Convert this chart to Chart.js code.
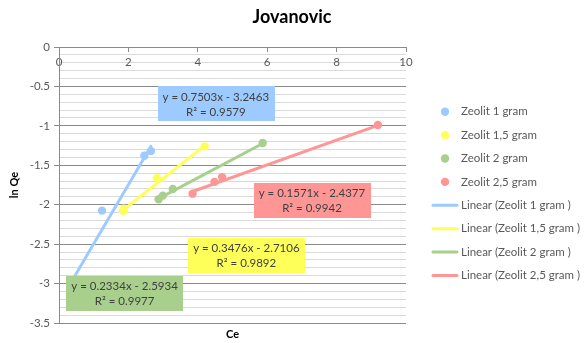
<!DOCTYPE html>
<html>
<head>
<meta charset="utf-8">
<script src="https://cdn.jsdelivr.net/npm/chart.js@4/dist/chart.umd.min.js"></script>
<style>
  html, body { margin: 0; padding: 0; background: #ffffff; }
  #wrap { width: 584px; height: 343px; position: relative; }
</style>
</head>
<body>
<div id="wrap"><canvas id="chart" width="584" height="343"></canvas></div>
<script>
// Jovanovic isotherm: ln Qe against Ce for four zeolite doses
const seriesNames = ['Zeolit 1 gram', 'Zeolit 1,5 gram', 'Zeolit 2 gram', 'Zeolit 2,5 gram'];

const ceZeolit1 = [0.35, 1.24, 2.46, 2.65];
const lnQeZeolit1 = [-3.02, -2.075, -1.38, -1.32];

const ceZeolit15 = [1.85, 1.87, 2.82, 4.2];
const lnQeZeolit15 = [-2.08, -2.05, -1.66, -1.26];

const ceZeolit2 = [2.87, 2.99, 3.28, 5.87];
const lnQeZeolit2 = [-1.93, -1.885, -1.80, -1.217];

const ceZeolit25 = [3.85, 4.48, 4.70, 9.19];
const lnQeZeolit25 = [-1.86, -1.71, -1.65, -0.99];

// Linear trendline coefficients and fit quality
const slopes = [0.7503, 0.3476, 0.2334, 0.1571];
const intercepts = [-3.2463, -2.7106, -2.5934, -2.4377];
const rSquared = [0.9579, 0.9892, 0.9977, 0.9942];

// Axis ticks
const xTicks = [0, 2, 4, 6, 8, 10];
const yMajorTicks = [0, -0.5, -1, -1.5, -2, -2.5, -3, -3.5];

const colors = ['#9DCBFF', '#FFFF59', '#A8D08C', '#FF9696'];
// Where each equation box sits, in axis units
const boxAnchors = [
  { x: 4.52, y: -0.722 },
  { x: 5.40, y: -2.647 },
  { x: 1.89, y: -3.127 },
  { x: 7.29, y: -1.949 }
];

const ceAll = [ceZeolit1, ceZeolit15, ceZeolit2, ceZeolit25];
const lnQeAll = [lnQeZeolit1, lnQeZeolit15, lnQeZeolit2, lnQeZeolit25];

const FONT = 'Lato, "Open Sans", "DejaVu Sans", sans-serif';
const GRID_MAJOR = '#8A8A8A';
const GRID_MINOR = '#DADADA';

function isMajor(v) {
  return yMajorTicks.some(t => Math.abs(t - v) < 1e-6);
}

const pointSets = seriesNames.map((name, i) => ({
  type: 'scatter',
  label: name,
  data: ceAll[i].map((x, k) => ({ x: x, y: lnQeAll[i][k] })),
  backgroundColor: colors[i],
  borderWidth: 0,
  pointRadius: 4.2,
  pointHoverRadius: 4.2,
  showLine: false
}));

const trendSets = seriesNames.map((name, i) => {
  const xmin = Math.min(...ceAll[i]);
  const xmax = Math.max(...ceAll[i]);
  return {
    type: 'line',
    label: 'Linear (' + name + ' )',
    data: [xmin, xmax].map(x => ({ x: x, y: slopes[i] * x + intercepts[i] })),
    borderColor: colors[i],
    backgroundColor: colors[i],
    borderWidth: 3,
    borderCapStyle: 'round',
    pointRadius: 0,
    fill: false,
    tension: 0
  };
});

function fmtCoef(v) { return Math.abs(v).toFixed(4); }

const overlayPlugin = {
  id: 'overlay',
  afterDatasetsDraw(chart) {
    const ctx = chart.ctx;
    const xs = chart.scales.x, ys = chart.scales.y;
    ctx.save();
    ctx.font = '11.5px ' + FONT;
    ctx.textAlign = 'center';
    ctx.textBaseline = 'middle';
    slopes.forEach((m, i) => {
      const line1 = 'y = ' + m.toFixed(4) + 'x ' + (intercepts[i] < 0 ? '-' : '+') + ' ' + fmtCoef(intercepts[i]);
      const line2 = 'R\u00B2 = ' + rSquared[i].toFixed(4);
      const cx = xs.getPixelForValue(boxAnchors[i].x);
      const cy = ys.getPixelForValue(boxAnchors[i].y);
      const w = Math.max(ctx.measureText(line1).width, ctx.measureText(line2).width) + 10;
      const h = 35;
      ctx.fillStyle = colors[i];
      ctx.fillRect(Math.round(cx - w / 2), Math.round(cy - h / 2), Math.round(w), h);
      ctx.fillStyle = '#404040';
      ctx.fillText(line1, cx, cy - 7);
      ctx.fillText(line2, cx, cy + 8);
    });
    ctx.restore();
  },
  afterDraw(chart) {
    const ctx = chart.ctx;
    const area = chart.chartArea;
    ctx.save();
    // Title
    ctx.fillStyle = '#000000';
    ctx.font = 'bold 18px ' + FONT;
    ctx.textAlign = 'center';
    ctx.textBaseline = 'middle';
    ctx.fillText('Jovanovic', chart.width / 2, 17);
    // Axis titles
    ctx.font = 'bold 11px ' + FONT;
    ctx.fillText('Ce', (area.left + area.right) / 2, 334);
    ctx.save();
    ctx.translate(14, (area.top + area.bottom) / 2);
    ctx.rotate(-Math.PI / 2);
    ctx.fillText('ln Qe', 0, 0);
    ctx.restore();
    // Legend
    ctx.font = '11.5px ' + FONT;
    ctx.textAlign = 'left';
    const entries = pointSets.concat(trendSets);
    entries.forEach((ds, i) => {
      const y = 111.7 + i * 23.4;
      if (i < 4) {
        ctx.fillStyle = ds.backgroundColor;
        ctx.beginPath();
        ctx.arc(445, y, 4.2, 0, Math.PI * 2);
        ctx.fill();
      } else {
        ctx.strokeStyle = ds.borderColor;
        ctx.lineWidth = 3;
        ctx.lineCap = 'round';
        ctx.beginPath();
        ctx.moveTo(433, y);
        ctx.lineTo(457, y);
        ctx.stroke();
      }
      ctx.fillStyle = '#595959';
      ctx.fillText(ds.label, 461, y);
    });
    ctx.restore();
  }
};

new Chart(document.getElementById('chart'), {
  type: 'scatter',
  data: { datasets: pointSets.concat(trendSets) },
  options: {
    responsive: false,
    animation: false,
    devicePixelRatio: 1,
    layout: { padding: { left: 0, top: 47, right: 178, bottom: 20 } },
    plugins: {
      legend: { display: false },
      title: { display: false },
      tooltip: { enabled: false }
    },
    scales: {
      x: {
        type: 'linear',
        position: { y: 0 },
        min: 0,
        max: 10,
        afterBuildTicks: scale => { scale.ticks = xTicks.map(v => ({ value: v })); },
        grid: { drawOnChartArea: false, drawTicks: true, tickLength: 4, tickColor: GRID_MAJOR },
        border: { color: GRID_MAJOR, width: 1 },
        ticks: {
          color: '#595959',
          font: { family: FONT, size: 11.5 },
          padding: 4,
          maxRotation: 0,
          callback: v => String(v)
        }
      },
      y: {
        type: 'linear',
        position: 'left',
        min: -3.5,
        max: 0,
        afterFit: scale => { scale.width = 59; },
        grid: {
          color: ctx => (ctx.tick && isMajor(ctx.tick.value)) ? GRID_MAJOR : GRID_MINOR,
          tickColor: ctx => (ctx.tick && isMajor(ctx.tick.value)) ? GRID_MAJOR : 'rgba(0,0,0,0)',
          tickLength: 5,
          lineWidth: 1
        },
        border: { color: GRID_MAJOR, width: 1 },
        ticks: {
          stepSize: 0.1,
          autoSkip: false,
          maxTicksLimit: 100,
          color: '#595959',
          font: { family: FONT, size: 11.5 },
          padding: 4,
          callback: v => isMajor(v) ? String(Math.round(v * 2) / 2) : ''
        }
      }
    }
  },
  plugins: [overlayPlugin]
});
</script>
</body>
</html>
